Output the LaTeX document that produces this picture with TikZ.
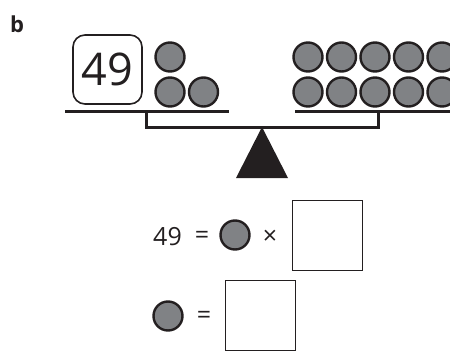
\documentclass[tikz,border=0pt]{standalone}
\usepackage{fontspec}
\setmainfont{Open Sans}
\definecolor{ink}{HTML}{231F20}
\definecolor{ball}{HTML}{808285}
\begin{document}
\begin{tikzpicture}[x=1pt,y=-1pt,
  ballst/.style={circle,draw=ink,fill=ball,line width=2.4pt,minimum size=29pt,inner sep=0pt},
  beam/.style={draw=ink,line width=3pt},
  ansbox/.style={draw=ink,line width=0.9pt,minimum size=70pt,inner sep=0pt},
  eqtext/.style={text=ink,font=\fontsize{25}{30}\selectfont,inner sep=0pt}]
\useasboundingbox (0,0) rectangle (450,351);
\clip (0,0) rectangle (450,351);
\node[text=ink,font=\bfseries\fontsize{22}{26}\selectfont] (lab) at (17,24) {b};
\node[draw=ink,line width=1.6pt,rounded corners=12pt,minimum width=69pt,minimum height=69pt,inner sep=0pt,text=ink,font=\fontsize{45}{50}\selectfont] (box49) at (107.5,69.5) {49};
% left balls
\node[ballst] (l1) at (170,57) {};
\node[ballst] (l2) at (170,92) {};
\node[ballst] (l3) at (203.5,92) {};
% right balls
\foreach \i in {0,...,4}{
  \node[ballst] (rt\i) at (308+33.5*\i,57) {};
  \node[ballst] (rb\i) at (308+33.5*\i,92) {};
}
% beam
\coordinate (pl1) at (65,111);
\coordinate (pl2) at (229,111);
\coordinate (pr1) at (295,111);
\coordinate (pr2) at (452,111);
\coordinate (sl) at (146,111);
\coordinate (sr) at (378,111);
\coordinate (bl) at (146,127);
\coordinate (br) at (378,127);
\draw[beam] (pl1) -- (pl2);
\draw[beam] (pr1) -- (pr2);
\draw[beam,line join=miter] (sl) -- (bl) -- (br) -- (sr);
% fulcrum
\coordinate (apex) at (262,127);
\coordinate (b1) at (236,178);
\coordinate (b2) at (288,178);
\fill[ink] (apex) -- (b1) -- (b2) -- cycle;
% equation 1
\node[eqtext] (t49) at (167.5,237) {49};
\node[eqtext] (eq1) at (202,237) {=};
\node[ballst] (e1) at (235,235) {};
\node[eqtext] (times) at (270,237) {×};
\node[ansbox] (a1) at (327,235) {};
% equation 2
\node[ballst] (e2) at (168,316) {};
\node[eqtext] (eq2) at (204,317) {=};
\node[ansbox] (a2) at (260,315) {};
\end{tikzpicture}
\end{document}
